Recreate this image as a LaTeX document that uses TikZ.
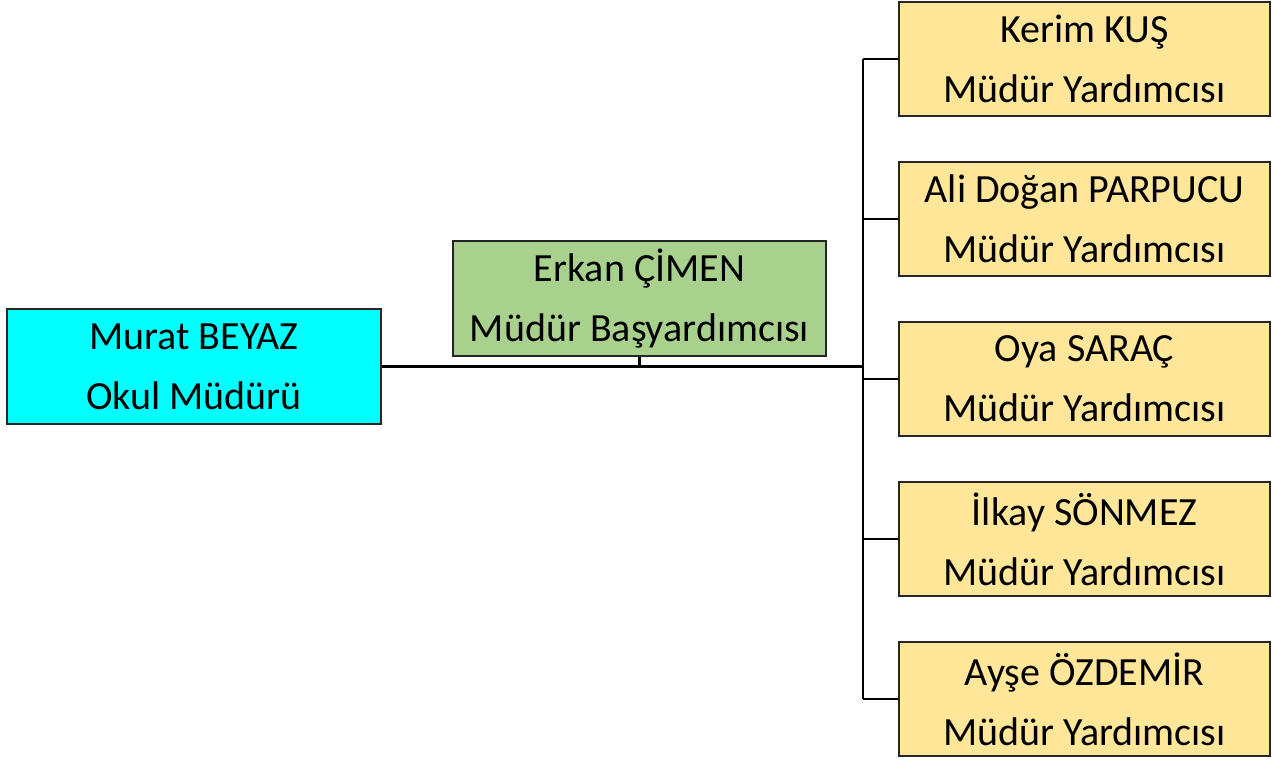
\documentclass[tikz,border=0pt]{standalone}
\usepackage{fontspec}
\setmainfont{Carlito}
\usetikzlibrary{positioning}
\definecolor{headcyan}{RGB}{0,255,255}
\definecolor{deputygreen}{RGB}{169,209,142}
\definecolor{assistyellow}{RGB}{255,230,153}

\begin{document}
\begin{tikzpicture}[x=1pt,y=1pt,node distance=160pt,
	every node/.style={font=\fontsize{40}{60}\selectfont},
	box node/.style={rectangle,draw=black!85,line width=2pt,align=center,
		inner sep=0pt,minimum height=115pt},
	head node/.style={box node,fill=headcyan,minimum width=374pt},
	deputy node/.style={box node,fill=deputygreen,minimum width=373pt},
	assistant node/.style={box node,fill=assistyellow,minimum width=371pt,minimum height=114pt},
	link/.style={draw=black,line width=2.2pt}]
	
	\useasboundingbox (0,0) rectangle (1274,760);
	
	\node[head node] (murat) at (194,393.5) {Murat BEYAZ\\Okul Müdürü};
	\node[deputy node] (erkan) at (639.5,461.5) {Erkan ÇİMEN\\Müdür Başyardımcısı};
	\node[assistant node] (kerim) at (1084.5,701) {Kerim KUŞ\\Müdür Yardımcısı};
	\node[assistant node] (ali) [below of=kerim] {Ali Doğan PARPUCU\\Müdür Yardımcısı};
	\node[assistant node] (oya) [below of=ali] {Oya SARAÇ\\Müdür Yardımcısı};
	\node[assistant node] (ilkay) [below of=oya] {İlkay SÖNMEZ\\Müdür Yardımcısı};
	\node[assistant node] (ayse) [below of=ilkay] {Ayşe ÖZDEMİR\\Müdür Yardımcısı};
	
	\coordinate (spine) at (863,393.5);
	\draw[line width=3.5pt] (murat.east) -- (spine);
	\draw[link] (erkan.south) -- (erkan.south |- murat.east);
	\draw[link] (spine |- kerim.west) -- (spine |- ayse.west);
	\foreach \n in {kerim,ali,oya,ilkay,ayse}
		\draw[link] (spine |- \n.west) -- (\n.west);
\end{tikzpicture}
\end{document}
